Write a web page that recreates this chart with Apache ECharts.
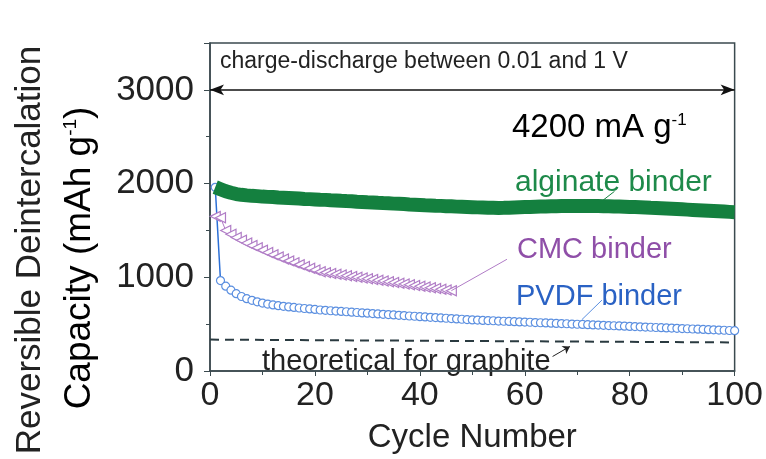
<!DOCTYPE html>
<html><head><meta charset="utf-8">
<script src="https://cdn.jsdelivr.net/npm/echarts@6/dist/echarts.min.js"></script>
<style>html,body{margin:0;padding:0;background:#fff}#c{width:766px;height:459px}</style>
</head><body><div id="c"></div>
<script>
var FONT = '"Liberation Sans", Arial, Helvetica, sans-serif';
var xTicks = [0, 20, 40, 60, 80, 100];
var yTicks = [0, 1000, 2000, 3000];
var alginate = [1962,1940,1918,1902,1888,1880,1874,1869,1866,1861,
 1858,1856,1851,1849,1846,1843,1840,1836,1834,1831,
 1828,1826,1822,1820,1816,1813,1811,1807,1804,1801,
 1799,1795,1792,1790,1786,1784,1781,1777,1775,1772,
 1769,1767,1764,1762,1759,1757,1754,1752,1750,1748,
 1746,1744,1742,1741,1740,1741,1743,1745,1747,1749,
 1751,1753,1755,1756,1758,1759,1760,1761,1761,1762,
 1762,1761,1761,1760,1759,1758,1756,1755,1753,1751,
 1749,1747,1745,1742,1740,1737,1734,1731,1728,1725,
 1722,1719,1716,1713,1710,1707,1704,1701,1698,1695];
var pvdf = [1960,965,905,862,825,795,772,754,738,725,
 714,705,697,690,684,678,672,667,662,657,
 651,647,643,639,636,632,628,624,620,617,
 613,609,605,602,598,594,591,587,584,580,
 577,573,570,566,563,559,556,552,549,545,
 543,540,538,536,533,531,529,526,524,522,
 520,517,515,513,510,508,506,504,501,499,
 497,494,492,490,487,485,483,481,478,476,
 474,471,469,467,464,462,460,458,455,453,
 451,448,446,444,441,439,437,435,432,430];
var cmc = [1650,1635,1500,1460,1425,1395,1365,1340,1315,1290,
 1265,1240,1218,1196,1175,1155,1135,1115,1096,1078,
 1060,1050,1041,1032,1024,1016,1008,1000,992,984,
 976,968,960,952,944,936,928,920,912,905,
 897,889,881,873,865,857];
var theoretical = [[0, 335], [100, 305]];

function pairs(arr){ return arr.map(function(v,i){ return [i+1, v]; }); }

var chart = echarts.init(document.getElementById('c'));
var GREEN = '#14803f', PURPLE = '#b07cc6', BLUE = '#5b8fe0';
chart.setOption({
  animation: false,
  textStyle: {fontFamily: FONT},
  grid: {left: 210, right: 31, top: 43, bottom: 79, show: true, borderColor: '#3b4a4f', borderWidth: 1.5},
  xAxis: {
    type: 'value', min: 0, max: 100, interval: 20,
    name: 'Cycle Number', nameLocation: 'middle', nameGap: 50,
    nameTextStyle: {fontSize: 33, color: '#222', fontFamily: FONT},
    axisLine: {lineStyle: {color: '#3b4a4f', width: 1.5}},
    axisTick: {inside: false, length: 5, lineStyle: {color: '#3b4a4f'}},
    minorTick: {show: true, splitNumber: 2, length: 4, lineStyle: {color: '#3b4a4f'}},
    axisLabel: {fontSize: 34, color: '#222', margin: 8, fontFamily: FONT,
      formatter: function(v){ return xTicks.indexOf(v) >= 0 ? String(v) : ''; }},
    splitLine: {show: false}
  },
  yAxis: {
    type: 'value', min: 0, max: 3500, interval: 1000,
    axisLine: {show: true, lineStyle: {color: '#3b4a4f', width: 1.5}},
    axisTick: {show: true, length: 6, lineStyle: {color: '#3b4a4f'}},
    minorTick: {show: true, splitNumber: 2, length: 4, lineStyle: {color: '#3b4a4f'}},
    axisLabel: {fontSize: 35, color: '#222', margin: 16, fontFamily: FONT,
      formatter: function(v){ return yTicks.indexOf(v) >= 0 ? String(v) : ''; }},
    splitLine: {show: false}
  },
  series: [
    {type: 'line', name: 'theoretical', data: theoretical, symbol: 'none',
     lineStyle: {color: '#2a3a40', width: 2, type: [9, 6]}, z: 1,
     markLine: {silent: true, symbol: ['none', 'arrow'], symbolSize: 7, label: {show: false},
       lineStyle: {color: '#222', width: 1, type: 'solid'},
       data: [[{coord: [65.3, 155]}, {coord: [68.6, 262]}]]}},
    {type: 'line', name: 'alginate binder', data: pairs(alginate), symbol: 'none',
     lineStyle: {color: GREEN, width: 14}, z: 3,
     markLine: {silent: true, symbol: 'none', label: {show: false},
       lineStyle: {color: GREEN, width: 1, type: 'solid'},
       data: [[{coord: [77.1, 1917]}, {coord: [74.7, 1813]}]]}},
    {type: 'line', name: 'CMC binder', data: pairs(cmc), symbol: 'triangle', symbolSize: 10,
     symbolRotate: 90,
     itemStyle: {color: '#fff', borderColor: PURPLE, borderWidth: 1.2},
     lineStyle: {color: PURPLE, width: 1}, z: 2,
     markLine: {silent: true, symbol: 'none', label: {show: false},
       lineStyle: {color: PURPLE, width: 1, type: 'solid'},
       data: [[{coord: [46, 857]}, {coord: [56.6, 1192]}]]}},
    {type: 'line', name: 'PVDF binder', data: pairs(pvdf), symbol: 'circle', symbolSize: 8,
     itemStyle: {color: '#fff', borderColor: BLUE, borderWidth: 1.2},
     lineStyle: {color: '#2b6fd6', width: 1.5}, z: 2,
     markLine: {silent: true, symbol: 'none', label: {show: false},
       lineStyle: {color: BLUE, width: 1, type: 'solid'},
       data: [[{coord: [74.7, 756]}, {coord: [70.9, 549]}]]}},
    {type: 'line', name: 'arrow', data: [], markLine: {silent: true, symbol: ['arrow', 'arrow'], symbolSize: [8, 14],
       label: {show: false}, lineStyle: {color: '#111', width: 1.5, type: 'solid'},
       data: [[{coord: [0, 3000]}, {coord: [100, 3000]}]]}}
  ],
  graphic: [
    {type: 'text', x: 30, y: 250, rotation: Math.PI / 2,
     style: {text: 'Reversible Deintercalation', font: '35px ' + FONT, fill: '#222', textAlign: 'center', textVerticalAlign: 'middle'}},
    {type: 'text', x: 80, y: 258, rotation: Math.PI / 2,
     style: {text: '{a|Capacity (mAh g}{s|-1}{a|)}', textAlign: 'center', textVerticalAlign: 'middle',
       rich: {a: {fontSize: 37, fontFamily: FONT, color: '#222'},
              s: {fontSize: 19, fontFamily: FONT, color: '#222', verticalAlign: 'top', padding: [0, 0, 19, 0]}}}},
    {type: 'text', x: 220, y: 62,
     style: {text: 'charge-discharge between 0.01 and 1 V', font: '23px ' + FONT, fill: '#222', textVerticalAlign: 'middle'}},
    {type: 'text', x: 512, y: 128,
     style: {text: '{a|4200 mA g}{s|-1}', textVerticalAlign: 'middle',
       rich: {a: {fontSize: 33, fontFamily: FONT, color: '#222'},
              s: {fontSize: 17, fontFamily: FONT, color: '#222', verticalAlign: 'top', padding: [0, 0, 16, 0]}}}},
    {type: 'text', x: 515, y: 183,
     style: {text: 'alginate binder', font: '30px ' + FONT, fill: '#1e8a4a', textVerticalAlign: 'middle'}},
    {type: 'text', x: 517, y: 250,
     style: {text: 'CMC binder', font: '29px ' + FONT, fill: '#8f4fa8', textVerticalAlign: 'middle'}},
    {type: 'text', x: 516, y: 297,
     style: {text: 'PVDF binder', font: '29px ' + FONT, fill: '#2a62c4', textVerticalAlign: 'middle'}},
    {type: 'text', x: 262, y: 362,
     style: {text: 'theoretical for graphite', font: '29px ' + FONT, fill: '#222', textVerticalAlign: 'middle'}}
  ]
});
</script></body></html>
